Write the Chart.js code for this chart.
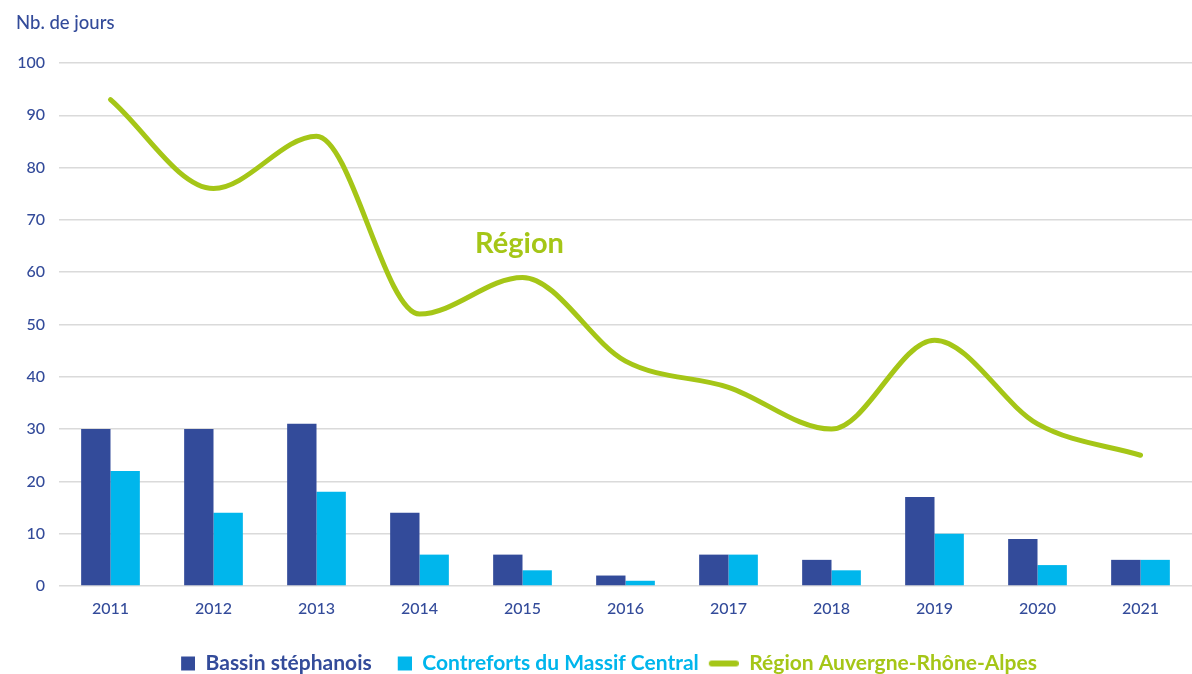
<!DOCTYPE html>
<html><head><meta charset="utf-8">
<script src="https://cdn.jsdelivr.net/npm/chart.js@4.4.0/dist/chart.umd.min.js"></script>
<style>html,body{margin:0;padding:0;background:#fff;}#wrap{width:1192px;height:674px;}</style>
</head><body><div id="wrap"><canvas id="c" width="1192" height="674"></canvas></div>
<script>
const categories = ['2011','2012','2013','2014','2015','2016','2017','2018','2019','2020','2021'];
const bassin = [30,30,31,14,6,2,6,5,17,9,5];
const contreforts = [22,14,18,6,3,1,6,3,10,4,5];
const region = [93,76,86,52,59,43,38,30,47,31,25];
const yTicks = [0,10,20,30,40,50,60,70,80,90,100];
const seriesNames = ['Bassin stéphanois','Contreforts du Massif Central','Région Auvergne-Rhône-Alpes'];
const yTitle = 'Nb. de jours';
const annotationText = 'Région';

const DARK = '#334B9A', LIGHT = '#00B6EC', GREEN = '#A5C617';
const FONT = 'Lato';
const SW = 40;

function swatch(type, color) {
  const c = document.createElement('canvas');
  c.width = SW; c.height = 16;
  const g = c.getContext('2d');
  if (type === 'line') {
    g.strokeStyle = color; g.lineWidth = 6; g.lineCap = 'round';
    g.beginPath(); g.moveTo(SW - 27, 8); g.lineTo(SW - 3, 8); g.stroke();
  } else {
    g.fillStyle = color; g.fillRect(SW - 14, 1, 14, 14);
  }
  return c;
}

const extras = {
  id: 'extras',
  afterDraw(chart) {
    const ctx = chart.ctx;
    ctx.save();
    ctx.fillStyle = DARK;
    ctx.font = '500 18.5px ' + FONT;
    ctx.textAlign = 'left';
    ctx.textBaseline = 'middle';
    ctx.fillText(yTitle, 16, 23);
    const xs = chart.scales.x, ys = chart.scales.y;
    ctx.fillStyle = GREEN;
    ctx.font = 'bold 29px ' + FONT;
    ctx.textAlign = 'center';
    ctx.fillText(annotationText, xs.getPixelForValue(4) - 3, ys.getPixelForValue(65.4));
    ctx.restore();
  }
};

new Chart(document.getElementById('c'), {
  data: {
    labels: categories,
    datasets: [
      { type: 'line', label: seriesNames[2], data: region, borderColor: GREEN, backgroundColor: GREEN,
        borderWidth: 5, pointRadius: 0, cubicInterpolationMode: 'monotone', borderCapStyle: 'round', order: 0 },
      { type: 'bar', label: seriesNames[0], data: bassin, backgroundColor: DARK, borderWidth: 0,
        barPercentage: 1.0, categoryPercentage: 0.57, order: 1 },
      { type: 'bar', label: seriesNames[1], data: contreforts, backgroundColor: LIGHT, borderWidth: 0,
        barPercentage: 1.0, categoryPercentage: 0.57, order: 1 }
    ]
  },
  options: {
    responsive: false,
    animation: false,
    layout: { padding: { top: 63, right: 0, left: 0, bottom: -10 } },
    scales: {
      x: {
        grid: { display: false },
        border: { display: false },
        afterFit(scale) { scale.height = 67; },
        ticks: { color: DARK, font: { family: FONT, size: 16, weight: '500' }, padding: 5 }
      },
      y: {
        min: 0, max: 100,
        afterBuildTicks(scale) { scale.ticks = yTicks.map(v => ({ value: v })); },
        afterFit(scale) { scale.width = 59; },
        grid: { color: '#DADADA', lineWidth: 1.5, drawTicks: false },
        border: { display: false },
        ticks: { color: DARK, font: { family: FONT, size: 16, weight: '500' }, padding: 14 }
      }
    },
    plugins: {
      tooltip: { enabled: false },
      legend: {
        position: 'bottom',
        labels: {
          color: DARK,
          font: { family: FONT, size: 21, weight: 'bold' },
          padding: 0,
          boxWidth: 14, boxHeight: 14,
          generateLabels(chart) {
            const order = [1, 2, 0];
            return order.map(i => {
              const ds = chart.data.datasets[i];
              return {
                text: ds.label,
                fillStyle: ds.backgroundColor,
                strokeStyle: ds.type === 'line' ? ds.borderColor : ds.backgroundColor,
                lineWidth: 0,
                fontColor: ds.type === 'line' ? GREEN : (i === 2 ? LIGHT : DARK),
                pointStyle: swatch(ds.type, ds.type === 'line' ? ds.borderColor : ds.backgroundColor),
                datasetIndex: i,
                hidden: false
              };
            });
          },
          usePointStyle: true,
          pointStyleWidth: SW
        }
      }
    }
  },
  plugins: [extras]
});
</script></body></html>
